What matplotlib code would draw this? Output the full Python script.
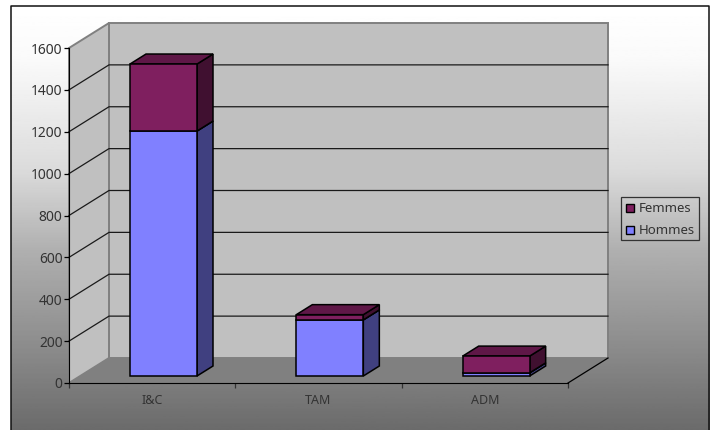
"""Stacked pseudo-3D column chart: Hommes / Femmes per category."""

import matplotlib

matplotlib.use("Agg")
import matplotlib.pyplot as plt
import numpy as np
from matplotlib.patches import Polygon, Rectangle

CATEGORIES = ["I&C", "TAM", "ADM"]
HOMMES = [1170, 268, 15]
FEMMES = [320, 25, 80]
Y_TICKS = [0, 200, 400, 600, 800, 1000, 1200, 1400, 1600]

W, H = 714, 430
COL_HOMMES = "#8080ff"
COL_FEMMES = "#7f1f5f"
WALL = "#c0c0c0"
FLOOR = "#808080"
TEXT = "#333333"

plt.rcParams["font.family"] = ["Noto Sans", "DejaVu Sans"]


def shade(hex_col, f):
    rgb = np.array(matplotlib.colors.to_rgb(hex_col)) * f
    return tuple(rgb)


fig = plt.figure(figsize=(W / 100, H / 100), dpi=100, facecolor="white")

# chart area gradient, in pixel coords
bg = fig.add_axes([0, 0, 1, 1])
bg.axis("off")
grad = np.interp(np.linspace(0, 1, 256), [0, 0.128, 0.387, 0.576, 0.788, 1],
                 [1.0, 0.98, 0.86, 0.69, 0.56, 0.42])
bg.imshow(grad[:, None], cmap="gray", vmin=0, vmax=1, aspect="auto",
          extent=(10.5, 709, 430, 5.5), zorder=0)
bg.plot([10.5, 10.5, 709, 709], [430, 5.5, 5.5, 430], color="#111111", lw=1.1, zorder=1)
bg.set_xlim(0, W)
bg.set_ylim(H, 0)

# front plane of the plot: x in categories, y in values
ax = fig.add_axes([69 / W, 1 - 383 / H, 499 / W, 335 / H])
ax.set_xlim(0, 3)
ax.set_ylim(0, 1600)
ax.patch.set_alpha(0)
for s in ["top", "right"]:
    ax.spines[s].set_visible(False)

# depth offset of the back wall, in data units
DX = 40 / 499 * 3
DY = 25 / 335 * 1600
BAR_W = 67 / 499 * 3
BAR_DX = 16 / 499 * 3
BAR_DY = 10 / 335 * 1600
BASE_DY = 7 / 335 * 1600


def poly(pts, fc, ec="none", lw=0.0, z=1):
    ax.add_patch(Polygon(pts, closed=True, facecolor=fc, edgecolor=ec, linewidth=lw,
                         zorder=z, clip_on=False, joinstyle="miter"))


# back wall, side wall, floor
poly([(DX, DY), (3 + DX, DY), (3 + DX, 1600 + DY), (DX, 1600 + DY)], WALL, "#808080", 1.4)
poly([(0, 0), (DX, DY), (DX, 1600 + DY), (0, 1600)], WALL, "#808080", 1.4)
poly([(0, 0), (3, 0), (3 + DX, DY), (DX, DY)], FLOOR)
ax.plot([3, 3 + DX], [0, DY], color="black", lw=0.9, clip_on=False, zorder=1.5)

# gridlines bent round the corner
for v in Y_TICKS[1:-1]:
    ax.plot([0, DX, 3 + DX], [v, v + DY, v + DY], color="#1a1a1a", lw=0.9,
            clip_on=False, zorder=1.5)

# stacked columns, hommes then femmes
for i in range(len(CATEGORIES)):
    x0 = i + 61 / 499 * 3
    x1 = x0 + BAR_W
    bottom = BASE_DY
    for val, col in ((HOMMES[i], COL_HOMMES), (FEMMES[i], COL_FEMMES)):
        top = bottom + val
        poly([(x1, bottom), (x1 + BAR_DX, bottom + BAR_DY),
              (x1 + BAR_DX, top + BAR_DY), (x1, top)], shade(col, 0.5), "black", 1.1, 3)
        poly([(x0, top), (x1, top), (x1 + BAR_DX, top + BAR_DY),
              (x0 + BAR_DX, top + BAR_DY)], shade(col, 0.75), "black", 1.1, 3)
        ax.add_patch(Rectangle((x0, bottom), BAR_W, val, facecolor=col, edgecolor="black",
                               linewidth=1.1, zorder=3.1, clip_on=False))
        bottom = top

ax.set_yticks(Y_TICKS)
ax.set_xticks(range(4))
ax.set_xticklabels([])
ax.tick_params(axis="y", length=3.6, width=0.9, labelsize=10, labelcolor=TEXT, pad=1)
ax.tick_params(axis="x", length=3.6, width=0.9, color="#333333")
for i, c in enumerate(CATEGORIES):
    ax.annotate(c, (i + 0.5, 0), xytext=(0, -18), textcoords="offset pixels", ha="center",
                va="center", fontsize=9, color=TEXT, annotation_clip=False)

# legend box
bg.add_patch(Rectangle((621, 197), 78, 43, facecolor="none", edgecolor="#333333", lw=0.9, zorder=5))
for y, col, lab in ((208, COL_FEMMES, "Femmes"), (230, COL_HOMMES, "Hommes")):
    bg.add_patch(Rectangle((626, y - 4), 8, 8, facecolor=col, edgecolor="black", lw=1.0, zorder=5))
    bg.text(639, y, lab, fontsize=9.5, color=TEXT, va="center", ha="left", zorder=5)

fig.savefig("out.png", dpi=100, facecolor="white")
